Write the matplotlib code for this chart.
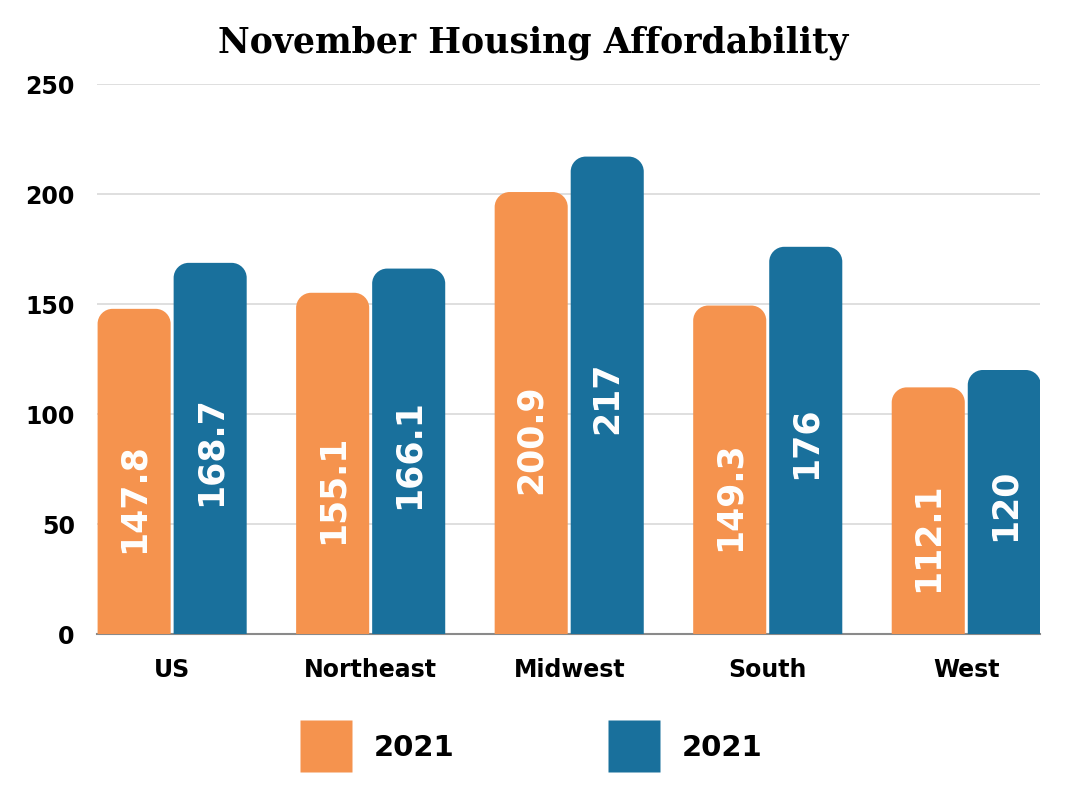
import numpy as np
import matplotlib
matplotlib.use("Agg")
import matplotlib.pyplot as plt
from matplotlib.path import Path
from matplotlib.patches import PathPatch
from matplotlib.lines import Line2D

regions = ["US", "Northeast", "Midwest", "South", "West"]
vals_a = [147.8, 155.1, 200.9, 149.3, 112.1]
vals_b = [168.7, 166.1, 217, 176, 120]
labels_a = ["147.8", "155.1", "200.9", "149.3", "112.1"]
labels_b = ["168.7", "166.1", "217", "176", "120"]
legend_names = ["2021", "2021"]

orange = "#F5934E"
blue = "#19709C"

plt.rcParams['font.family'] = ['DejaVu Sans']

fig = plt.figure(figsize=(10.67, 8), dpi=100)
ax = fig.add_axes([0.091, 0.2075, 0.884, 0.6875])

x = np.arange(len(regions))
w = 0.368
off = 0.1915


def rounded_top(rect, rpx=15):
    # swap a plain bar for one with rounded top corners
    x0, y0 = rect.get_x(), rect.get_y()
    bw, bh = rect.get_width(), rect.get_height()
    # radius in data units, from pixel size
    sx = 198.5
    sy = 550 / 250
    rx = rpx / sx
    ry = rpx / sy
    k = 0.5523
    x1 = x0 + bw
    y1 = y0 + bh
    verts = [
        (x0, y0), (x0, y1 - ry),
        (x0, y1 - ry + k * ry), (x0 + rx - k * rx, y1), (x0 + rx, y1),
        (x1 - rx, y1),
        (x1 - rx + k * rx, y1), (x1, y1 - ry + k * ry), (x1, y1 - ry),
        (x1, y0), (x0, y0),
    ]
    codes = [Path.MOVETO, Path.LINETO,
             Path.CURVE4, Path.CURVE4, Path.CURVE4,
             Path.LINETO,
             Path.CURVE4, Path.CURVE4, Path.CURVE4,
             Path.LINETO, Path.CLOSEPOLY]
    p = PathPatch(Path(verts, codes), facecolor=rect.get_facecolor(),
                  edgecolor="none", zorder=3)
    ax.add_patch(p)
    rect.set_visible(False)


bars_a = ax.bar(x - off, vals_a, width=w, color=orange)
bars_b = ax.bar(x + off, vals_b, width=w, color=blue)
for r in list(bars_a) + list(bars_b):
    rounded_top(r)

for b, t in zip(bars_a, labels_a):
    ax.annotate(t, (b.get_x() + b.get_width() / 2, b.get_height() / 2),
                xytext=(0, -19), textcoords="offset points",
                rotation=90, ha="center", va="center", color="white",
                fontsize=25, fontweight="bold", zorder=4)
for b, t in zip(bars_b, labels_b):
    ax.annotate(t, (b.get_x() + b.get_width() / 2, b.get_height() / 2),
                xytext=(0, -2), textcoords="offset points",
                rotation=90, ha="center", va="center", color="white",
                fontsize=25, fontweight="bold", zorder=4)

ax.set_xlim(-0.378, 4.373)
ax.set_ylim(0, 250)
ax.set_yticks(range(0, 251, 50))
ax.yaxis.grid(True, color="#d9d9d9", linewidth=1.2)
ax.set_axisbelow(True)
for s in ["top", "right", "left"]:
    ax.spines[s].set_visible(False)
ax.spines["bottom"].set_color("#8a8a8a")
ax.spines["bottom"].set_linewidth(1.5)
ax.tick_params(axis="both", length=0)
ax.tick_params(axis="y", pad=16, labelsize=17)
ax.tick_params(axis="x", pad=17, labelsize=17)
ax.set_xticks(x)
ax.set_xticklabels(regions)
for lbl in ax.get_xticklabels() + ax.get_yticklabels():
    lbl.set_fontweight("bold")

fig.text(0.5, 0.946, "November Housing Affordability", ha="center", va="center",
         fontsize=25, fontweight="bold", family="DejaVu Serif")

handles = [Line2D([0], [0], marker="s", color="none", markerfacecolor=c,
                  markeredgecolor="none", markersize=38)
           for c in [orange, blue]]
fig.legend(handles, legend_names, loc="center", bbox_to_anchor=(0.5, 0.065),
           ncol=2, frameon=False, prop={"size": 21, "weight": "bold"},
           handlelength=1.5, handletextpad=0.9, columnspacing=5.4)

fig.savefig("out.png", dpi=100)
